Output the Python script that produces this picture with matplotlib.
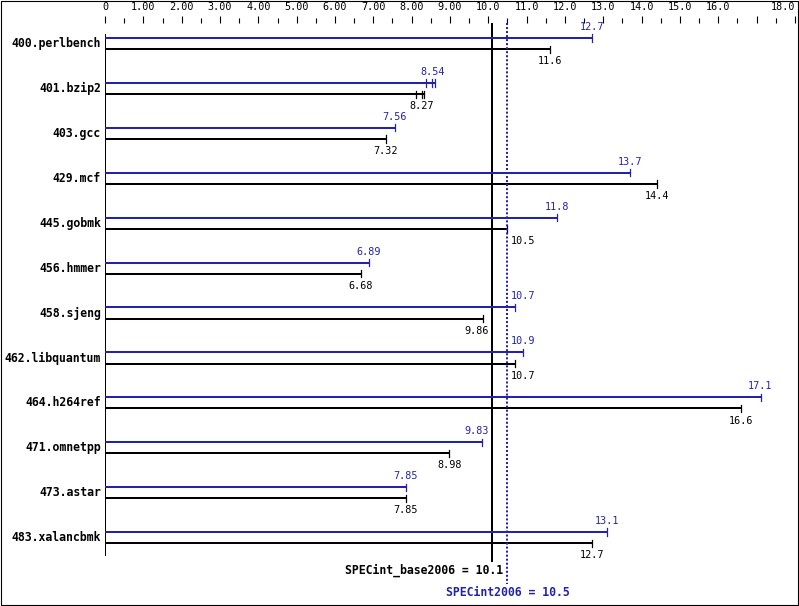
import matplotlib
matplotlib.use('Agg')
import matplotlib.pyplot as plt
from matplotlib.patches import Rectangle
from matplotlib.ticker import MultipleLocator, FixedLocator, FixedFormatter

# SPEC CPU2006 integer results (ratios)
benchmarks = ['400.perlbench', '401.bzip2', '403.gcc', '429.mcf', '445.gobmk',
              '456.hmmer', '458.sjeng', '462.libquantum', '464.h264ref',
              '471.omnetpp', '473.astar', '483.xalancbmk']
base = [11.6, 8.27, 7.32, 14.4, 10.5, 6.68, 9.86, 10.7, 16.6, 8.98, 7.85, 12.7]
peak = [12.7, 8.54, 7.56, 13.7, 11.8, 6.89, 10.7, 10.9, 17.1, 9.83, 7.85, 13.1]

# other runs that show up as extra tick marks
extra_base_runs = {'401.bzip2': [8.12, 8.33]}
extra_peak_runs = {'401.bzip2': [8.37, 8.61]}

base_mean = 10.1
peak_mean = 10.5

tick_values = list(range(0, 19))
tick_labels = ['0', '1.00', '2.00', '3.00', '4.00', '5.00', '6.00', '7.00', '8.00',
               '9.00', '10.0', '11.0', '12.0', '13.0', '14.0', '15.0', '16.0', '', '18.0']

BLUE = '#2323aa'
FONT = 'DejaVu Sans Mono'

W, H = 799, 606
PX_X0, PX_X1 = 105, 795      # pixels of x=0 and x=18
PX_TOP = 22.7                # top of axes (tick base)
ROW0, ROWH = 43.7, 44.9      # pixel centre of first row, row pitch


def px_to_row(py):
    return (py - ROW0) / ROWH


def px_to_x(dx):
    return dx * 18.0 / (PX_X1 - PX_X0)


fig = plt.figure(figsize=(W / 100, H / 100), dpi=100)
ax = fig.add_axes([PX_X0 / W, 0, (PX_X1 - PX_X0) / W, 1 - PX_TOP / H])
ax.set_xlim(0, 18)
ax.set_ylim(px_to_row(H), px_to_row(PX_TOP))
for s in ax.spines.values():
    s.set_visible(False)
ax.yaxis.set_visible(False)
ax.xaxis.tick_top()
ax.xaxis.set_major_locator(FixedLocator(tick_values))
ax.xaxis.set_major_formatter(FixedFormatter(tick_labels))
ax.xaxis.set_minor_locator(MultipleLocator(0.5))
ax.tick_params(axis='x', which='major', length=4.8, width=0.8, pad=3,
               labelsize=7.3, direction='out')
ax.tick_params(axis='x', which='minor', length=3.4, width=0.8, direction='out')
xlabels = ax.get_xticklabels()
for lab in xlabels:
    lab.set_fontfamily(FONT)
# last label sits inside the picture edge
xlabels[-1].set_horizontalalignment('right')

lw = 1.45
off = px_to_row(ROW0 + 5.6)          # half gap between peak and base lines
cap = px_to_row(ROW0 + 3.6)
char_w = px_to_x(6.0)
lines_x = [base_mean, peak_mean]


def label_x(v, text):
    # centre on bar end, but move aside if a summary line runs through it
    half = len(text) * char_w / 2
    gap = px_to_x(4)
    x = v
    for lx in lines_x:
        if x - half < lx < x + half:
            right = lx + gap + half
            left = lx - gap - half
            # don't shove it onto the other summary line
            ok_left = all(not (left - half < o < left + half) for o in lines_x)
            if abs(left - v) < abs(right - v) and ok_left:
                x = left
            else:
                x = right
    return x


for i, name in enumerate(benchmarks):
    yp = i - off
    yb = i + off
    pr = [peak[i]] + extra_peak_runs.get(name, [])
    br = [base[i]] + extra_base_runs.get(name, [])
    ax.plot([0, max(pr)], [yp, yp], color=BLUE, lw=lw, solid_capstyle='butt', zorder=3)
    ax.plot([0, max(br)], [yb, yb], color='black', lw=lw, solid_capstyle='butt', zorder=3)
    for r in pr:
        ax.plot([r, r], [yp - cap, yp + cap], color=BLUE, lw=0.9, zorder=3)
    for r in br:
        ax.plot([r, r], [yb - cap, yb + cap], color='black', lw=0.9, zorder=3)
    pt = f'{peak[i]:g}'
    bt = f'{base[i]:g}'
    ax.text(label_x(peak[i], pt), yp - px_to_row(ROW0 + 11), pt, color=BLUE,
            fontsize=7.3, family=FONT, ha='center', va='center')
    ax.text(label_x(base[i], bt), yb + px_to_row(ROW0 + 12), bt, color='black',
            fontsize=7.3, family=FONT, ha='center', va='center')
    ax.text(px_to_x(-4), i, name, fontsize=8.3, family=FONT, weight='bold',
            ha='right', va='center', clip_on=False)

# left axis line
ax.plot([0, 0], [px_to_row(35), px_to_row(555)], color='black', lw=lw, zorder=2)

# summary lines
ax.plot([base_mean, base_mean], [px_to_row(PX_TOP), px_to_row(561)],
        color='black', lw=lw, zorder=2)
ax.plot([peak_mean, peak_mean], [px_to_row(PX_TOP), px_to_row(584)],
        color=BLUE, lw=lw, linestyle=(0, (1, 1)), zorder=4)
ax.text(base_mean + px_to_x(11), px_to_row(570.5), f'SPECint_base2006 = {base_mean}',
        fontsize=8.3, family=FONT, weight='bold', ha='right', va='center')
ax.text(peak_mean, px_to_row(592), f'SPECint2006 = {peak_mean}', color=BLUE,
        fontsize=8.3, family=FONT, weight='bold', ha='center', va='center')

# frame round the picture
fig.patches.append(Rectangle((0.5 / W, 1.5 / H), 1 - 1.5 / W, 1 - 2.5 / H,
                             transform=fig.transFigure, fill=False,
                             edgecolor='black', lw=0.8))

fig.savefig('out.png', dpi=100)
